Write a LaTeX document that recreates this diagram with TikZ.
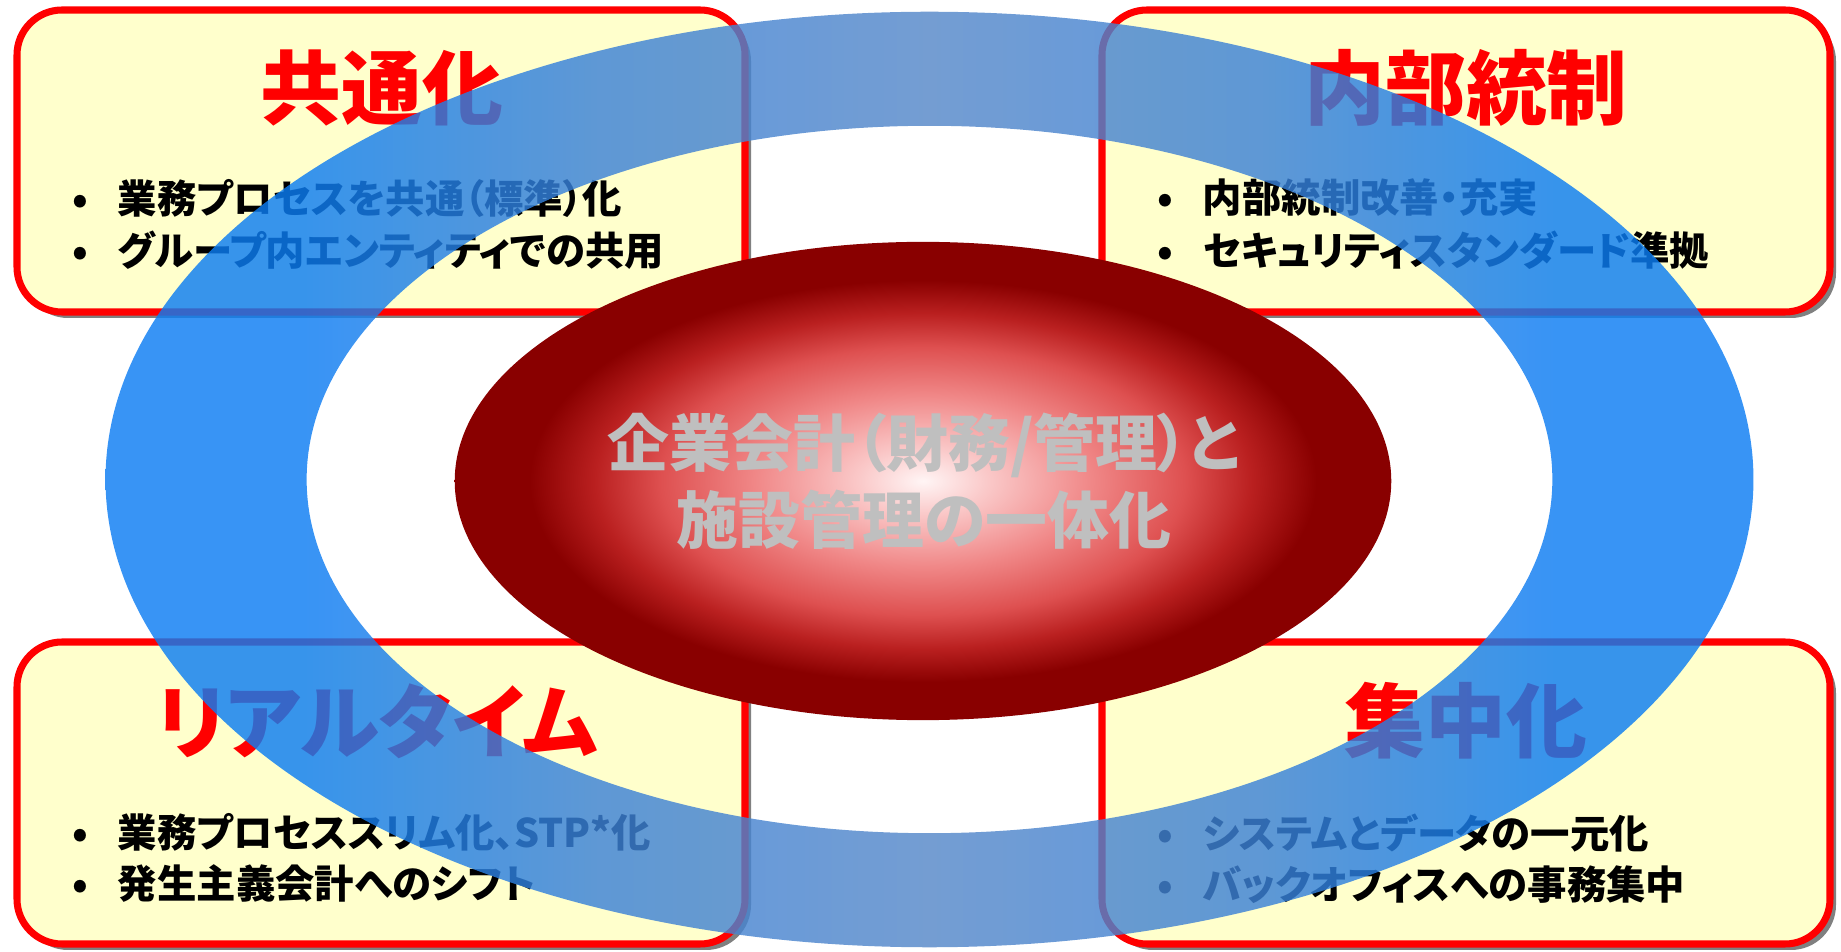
\documentclass[tikz,border=0pt]{standalone}
\usepackage{fontspec}
\setmainfont{Noto Sans CJK JP}[RawFeature=+palt]

\definecolor{boxfill}{RGB}{255,255,204}
\definecolor{boxred}{RGB}{255,0,0}
\definecolor{shadowgray}{RGB}{128,128,128}
\definecolor{coregray}{RGB}{191,191,191}
\definecolor{ringside}{RGB}{12,125,243}
\definecolor{ringmid}{RGB}{60,130,215}
\definecolor{ringtop}{RGB}{85,135,200}
\definecolor{glowa}{RGB}{255,245,245}
\definecolor{glowb}{RGB}{250,200,200}
\definecolor{glowc}{RGB}{240,135,135}
\definecolor{glowd}{RGB}{222,80,80}
\definecolor{glowe}{RGB}{186,32,32}
\definecolor{glowf}{RGB}{137,0,0}

\pgfdeclareradialshading{redglow}{\pgfpoint{0bp}{0bp}}{color(0bp)=(glowa); color(3.5bp)=(glowb); color(9bp)=(glowc); color(14bp)=(glowd); color(17.5bp)=(glowe); color(21bp)=(glowf); color(50bp)=(glowf)}
\pgfdeclarehorizontalshading{ringblue}{100bp}{color(0bp)=(ringside); color(31bp)=(ringside); color(40bp)=(ringmid); color(50bp)=(ringtop); color(60bp)=(ringmid); color(69bp)=(ringside); color(100bp)=(ringside)}

\newcommand{\itemdot}{\makebox[1.15em][l]{•}}

\tikzset{
  panel/.style={draw=boxred, line width=2pt, fill=boxfill, rounded corners=0.45cm},
  panelshadow/.style={fill=shadowgray, rounded corners=0.45cm},
  head/.style={text=boxred, inner sep=0pt, font=\fontsize{23pt}{24pt}\selectfont\bfseries},
  item/.style={anchor=west, inner sep=0pt, font=\fontsize{11.2pt}{12pt}\selectfont\bfseries},
  core/.style={text=coregray, align=center, inner sep=0pt, font=\fontsize{17.6pt}{21.9pt}\selectfont\bfseries}
}

\begin{document}
\begin{tikzpicture}[x=0.01cm, y=-0.01cm]
\useasboundingbox (0,0) rectangle (1841,952);
\def\bw{728}
\def\bh{302}
\def\xa{17}
\def\xb{1102}
\def\ya{10}
\def\yb{642}

\fill[panelshadow] (\xa+6, \ya+6) rectangle ++(\bw, \bh);
\fill[panelshadow] (\xb+6, \ya+6) rectangle ++(\bw, \bh);
\fill[panelshadow] (\xa+6, \yb+6) rectangle ++(\bw, \bh);
\fill[panelshadow] (\xb+6, \yb+6) rectangle ++(\bw, \bh);
\filldraw[panel] (\xa, \ya) rectangle ++(\bw, \bh);
\filldraw[panel] (\xb, \ya) rectangle ++(\bw, \bh);
\filldraw[panel] (\xa, \yb) rectangle ++(\bw, \bh);
\filldraw[panel] (\xb, \yb) rectangle ++(\bw, \bh);

\node[head] (h1) at (382, 88) {共通化};
\node[head] (h2) at (1466, 88) {内部統制};
\node[head] (h3) at (377, 721) {リアルタイム};
\node[head] (h4) at (1466, 721) {集中化};

\node[item] (a1) at (72, 198) {\itemdot 業務プロセスを共通（標準）化};
\node[item] (a2) at (72, 250) {\itemdot グループ内エンティティでの共用};
\node[item] (b1) at (1157, 198) {\itemdot 内部統制改善・充実};
\node[item] (b2) at (1157, 250) {\itemdot セキュリティスタンダード準拠};
\node[item] (c1) at (72, 832) {\itemdot 業務プロセススリム化、STP*化};
\node[item] (c2) at (72, 884) {\itemdot 発生主義会計へのシフト};
\node[item] (d1) at (1157, 833) {\itemdot システムとデータの一元化};
\node[item] (d2) at (1157, 885) {\itemdot バックオフィスへの事務集中};

\shade[shading=redglow] (923, 481) ellipse [x radius=4.68cm, y radius=2.39cm];
\node[core] (core) at (924, 481) {企業会計（財務/管理）と\\施設管理の一体化};

\shade[shading=ringblue, even odd rule, fill opacity=0.82]
  (929.5, 479.5) ellipse [x radius=8.235cm, y radius=4.675cm]
  (929.5, 479.5) ellipse [x radius=6.225cm, y radius=3.535cm];
\end{tikzpicture}
\end{document}
